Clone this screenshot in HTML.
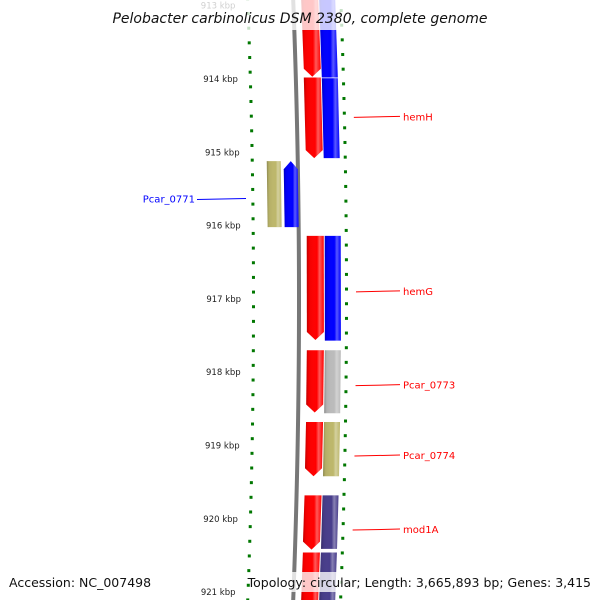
<!DOCTYPE html>
<html><head><meta charset="utf-8">
<style>
html,body{margin:0;padding:0;background:#fff;}
svg{display:block;font-family:"DejaVu Sans","Liberation Sans",sans-serif;}
</style></head>
<body>
<svg id="map" width="600" height="600" viewBox="0 0 600 600" xmlns="http://www.w3.org/2000/svg">
<defs>
<linearGradient id="shade" x1="0" x2="1" y1="0" y2="0">
<stop offset="0" stop-color="#000" stop-opacity="0.25"/>
<stop offset="0.15" stop-color="#000" stop-opacity="0.05"/>
<stop offset="0.6" stop-color="#fff" stop-opacity="0"/>
<stop offset="0.75" stop-color="#fff" stop-opacity="0.35"/>
<stop offset="1" stop-color="#fff" stop-opacity="0"/>
</linearGradient>
<linearGradient id="bb" x1="0" x2="1">
<stop offset="0" stop-color="#999"/><stop offset="0.5" stop-color="#555"/><stop offset="1" stop-color="#aaa"/>
</linearGradient>
</defs>
<g id="layer"></g>
</svg>
<script>
// data
const tickStart = 912.9, tickEnd = 921.1;
const majorLabels = [913,914,915,916,917,918,919,920,921];
const geneStart = [912.9,913.98,916.14,917.70,918.68,919.68,920.46, 912.9,913.99,916.14,917.70,918.68,919.68,920.46, 915.12,915.12];
const geneEnd   = [913.97,915.08,917.56,918.55,919.42,920.42,921.2, 913.98,915.08,917.57,918.56,919.42,920.41,921.2, 916.02,916.02];
const geneTrack = [1,1,1,1,1,1,1, 2,2,2,2,2,2,2, -2,-1];
const geneColor = ["#ff0000","#ff0000","#ff0000","#ff0000","#ff0000","#ff0000","#ff0000","#0000ff","#0000ff","#0000ff","#bbbbbb","#bdb76b","#483d8b","#483d8b","#bdb76b","#0000ff"];
const geneArrow = [1,1,1,1,1,1,0, 0,0,0,0,0,0,0, 0,-1];
const labelText = ["hemH","hemG","Pcar_0773","Pcar_0774","mod1A","Pcar_0771"];
const labelKbp  = [914.51,916.89,918.17,919.13,920.14,915.63];
const labelSide = [1,1,1,1,1,-1];
const labelColor= ["#ff0000","#ff0000","#ff0000","#ff0000","#ff0000","#0000ff"];

const g = document.getElementById('layer');
const NS = "http://www.w3.org/2000/svg";
function yScale(k){ return 79 + (k-914)*73.3; }
function off(y){ const t=(y-300)/330; return 7*(1-t*t); }
function mk(tag, attrs){ const e=document.createElementNS(NS,tag); for(const k in attrs) e.setAttribute(k,attrs[k]); g.appendChild(e); return e; }
const trackX = {"-2":[261,275],"-1":[278,292],"1":[300,317],"2":[318,334]};

// backbone
{
  let d="";
  for(let y=-5;y<=605;y+=10){ d+=(y===-5?"M":"L")+(292+off(y))+","+y; }
  const p=mk('path',{d:d,stroke:"#777","stroke-width":4,fill:"none"});
  
  
}
// ticks
for(let i=0;i<=(tickEnd-tickStart)*5+0.01;i++){
  const k = Math.round((tickStart+i*0.2)*10)/10;
  const y = yScale(k);
  const major = Math.abs(k-Math.round(k))<0.01;
  const xl = 249+off(y)-4, xr=338+off(y);
  const l=mk('rect',{x: major? xl-4: xl, y:y-1, width: major?8:3, height: major?2:3, fill:"#007700"});
  
  
  const r=mk('rect',{x: major? xr-1: xr, y:y-4, width: major?8:3, height: major?2:3, fill:"#007700"});
  
  
}
majorLabels.forEach(k=>{
  const y=yScale(k);
  const t=mk('text',{x:238+off(y)-4,y:y+3,"font-size":"8.5","text-anchor":"end",fill:"#222"});
  t.textContent=k+" kbp";
  
  
});
// genes
for(let i=0;i<geneStart.length;i++){
  const y1=yScale(geneStart[i]), y2=yScale(geneEnd[i]);
  const [a,b]=trackX[geneTrack[i]];
  const o1=off(y1), o2=off(y2);
  let pts;
  const h=8, mid=(a+b)/2;
  if(geneArrow[i]===1){
    pts=[[a+o1,y1],[b+o1,y1],[b+o2,y2-h],[mid+o2,y2],[a+o2,y2-h]];
  } else if(geneArrow[i]===-1){
    pts=[[mid+o1,y1],[b+o1,y1+h],[b+o2,y2],[a+o2,y2],[a+o1,y1+h]];
  } else {
    pts=[[a+o1,y1],[b+o1,y1],[b+o2,y2],[a+o2,y2]];
  }
  const ps=pts.map(p=>p.join(",")).join(" ");
  const p=mk('polygon',{points:ps,fill:geneColor[i]});
  
  
  const s=mk('polygon',{points:ps,fill:"url(#shade)"});
  
  
}
// labels
for(let i=0;i<labelText.length;i++){
  const y=yScale(labelKbp[i]);
  if(labelSide[i]===1){
    const x0=349+off(y);
    const ln=mk('line',{x1:x0,y1:y+1,x2:400,y2:y,stroke:labelColor[i],"stroke-width":1});
    
    
    const t=mk('text',{x:403,y:y+4,"font-size":"10",fill:labelColor[i]});
    t.textContent=labelText[i];
    
    
  } else {
    const ln=mk('line',{x1:197,y1:y+1,x2:246,y2:y,stroke:labelColor[i],"stroke-width":1});
    
    
    const t=mk('text',{x:195,y:y+4,"font-size":"10","text-anchor":"end",fill:labelColor[i]});
    t.textContent=labelText[i];
    
    
  }
}
// title and footer
{
  const r=mk('rect',{x:110,y:0,width:385,height:30,fill:"#fff","fill-opacity":0.78});
  
  
  const t=mk('text',{x:300,y:23,"font-size":"14","text-anchor":"middle","font-style":"italic",fill:"#111"});
  t.textContent="Pelobacter carbinolicus DSM 2380, complete genome";
  
  
  const r2=mk('rect',{x:255,y:572,width:340,height:20,fill:"#fff","fill-opacity":0.78});
  
  
  const a=mk('text',{x:9,y:587,"font-size":"12.5",fill:"#111"});
  a.textContent="Accession: NC_007498";
  
  
  const b=mk('text',{x:591,y:587,"font-size":"12.5","text-anchor":"end",fill:"#111"});
  b.textContent="Topology: circular; Length: 3,665,893 bp; Genes: 3,415";
  
  
}
</script>
</body></html>
